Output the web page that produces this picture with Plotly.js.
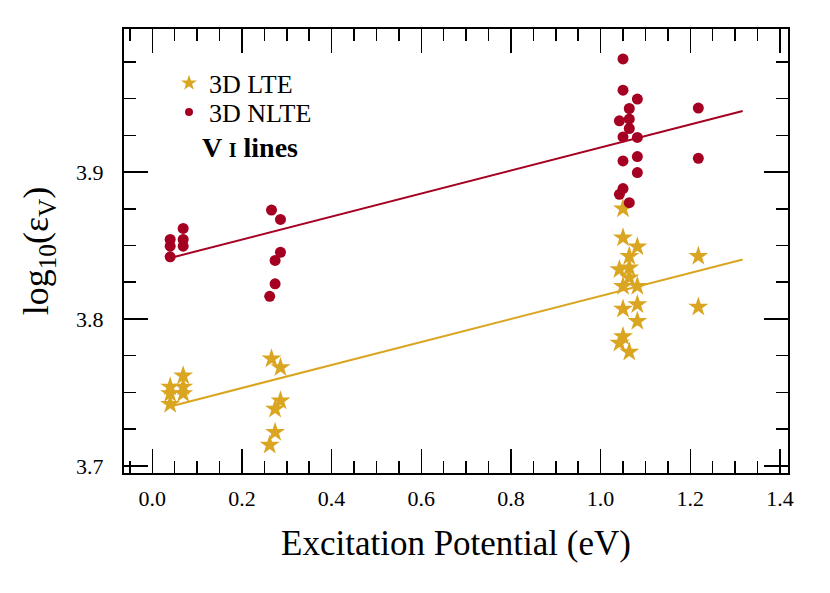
<!DOCTYPE html>
<html>
<head>
<meta charset="utf-8">
<script src="https://cdn.plot.ly/plotly-3.0.1.min.js"></script>
<style>html,body{margin:0;padding:0;background:#fff;}</style>
</head>
<body>
<div id="chart" style="width:830px;height:593px;"></div>
<script>
// Excitation potential (eV) of each V I line
var epX = [0.040, 0.040, 0.040, 0.069, 0.069, 0.069,
           0.266, 0.286, 0.286, 0.274, 0.274, 0.262,
           1.050, 1.050, 1.082, 1.064, 1.042, 1.064, 1.064, 1.050, 1.082,
           1.082, 1.050, 1.082, 1.050, 1.042, 1.064,
           1.218, 1.218];
// 3D NLTE abundances
var nlteY = [3.8541, 3.8495, 3.8423, 3.8616, 3.8541, 3.8495,
             3.8741, 3.8677, 3.8454, 3.8398, 3.8239, 3.8154,
             3.9769, 3.9557, 3.9496, 3.9432, 3.9348, 3.9360, 3.9296, 3.9239, 3.9235,
             3.9105, 3.9075, 3.8996, 3.8887, 3.8848, 3.8791,
             3.9435, 3.9093];
// 3D LTE abundances
var lteY = [3.7538, 3.7493, 3.7420, 3.7613, 3.7538, 3.7493,
            3.7729, 3.7670, 3.7443, 3.7388, 3.7229, 3.7143,
            3.8750, 3.8553, 3.8491, 3.8427, 3.8336, 3.8348, 3.8280, 3.8222, 3.8222,
            3.8098, 3.8068, 3.7984, 3.7881, 3.7836, 3.7775,
            3.8427, 3.8082];
// Linear fits (end points)
var fitX = [0.040, 1.317];
var fitNLTE = [3.8415, 3.9415];
var fitLTE = [3.7405, 3.8405];

var seriesNames = ['3D LTE', '3D NLTE'];
var xTitle = 'Excitation Potential (eV)';
var yTitle = 'log<sub>10</sub>(ε<sub>V</sub>)';

var GOLD = '#DAA520';
var RED = '#A50021';
var FONT = 'Liberation Serif, DejaVu Serif, serif';

var traces = [
  {x: fitX, y: fitLTE, mode: 'lines', line: {color: GOLD, width: 2}, showlegend: false, hoverinfo: 'skip'},
  {x: fitX, y: fitNLTE, mode: 'lines', line: {color: RED, width: 2}, showlegend: false, hoverinfo: 'skip'},
  {x: epX, y: lteY, mode: 'markers', name: seriesNames[0], showlegend: false,
   marker: {symbol: 'star', size: 15, color: GOLD, line: {width: 0}}},
  {x: epX, y: nlteY, mode: 'markers', name: seriesNames[1], showlegend: false,
   marker: {symbol: 'circle', size: 11, color: RED, line: {width: 0}}},
  // legend entries
  {x: [null], y: [null], mode: 'markers', name: seriesNames[0], legend: 'legend',
   marker: {symbol: 'star', size: 12, color: GOLD, line: {width: 0}}},
  {x: [null], y: [null], mode: 'markers', name: seriesNames[1], legend: 'legend2',
   marker: {symbol: 'circle', size: 8, color: RED, line: {width: 0}}}
];

var axisCommon = {
  showline: true, linewidth: 2, linecolor: '#000', mirror: 'allticks',
  ticks: 'inside', ticklen: 24, tickwidth: 1.5, tickcolor: '#000',
  showgrid: false, zeroline: false,
  tickfont: {family: FONT, size: 22, color: '#000'}
};

var legendCommon = {
  xanchor: 'left', yanchor: 'middle',
  bgcolor: 'rgba(0,0,0,0)', borderwidth: 0,
  font: {family: FONT, size: 26, color: '#000'},
  itemwidth: 30
};

var layout = {
  width: 830, height: 593,
  margin: {l: 124, r: 42, t: 29, b: 120},
  paper_bgcolor: '#fff', plot_bgcolor: '#fff',
  font: {family: FONT, color: '#000'},
  xaxis: Object.assign({}, axisCommon, {
    range: [-0.063, 1.418], tick0: 0, dtick: 0.2, tickformat: '.1f',
    ticklabelstandoff: 5,
    minor: {dtick: 0.05, ticks: 'inside', ticklen: 12, tickwidth: 1.5, tickcolor: '#000', showgrid: false},
    title: {text: xTitle, font: {family: FONT, size: 35, color: '#000'}, standoff: 20}
  }),
  yaxis: Object.assign({}, axisCommon, {
    range: [3.6952, 3.9973], tick0: 3.7, dtick: 0.1, tickformat: '.1f',
    ticklabelstandoff: 14,
    minor: {dtick: 0.025, ticks: 'inside', ticklen: 12, tickwidth: 1.5, tickcolor: '#000', showgrid: false},
    title: {text: yTitle, font: {family: FONT, size: 36, color: '#000'}, standoff: 16}
  }),
  legend: Object.assign({}, legendCommon, {x: 0.0678, y: 0.878}),
  legend2: Object.assign({}, legendCommon, {x: 0.0678, y: 0.813}),
  annotations: [{
    xref: 'paper', yref: 'paper', x: 0.1145, y: 0.734, xanchor: 'left', yanchor: 'middle',
    showarrow: false,
    text: '<b>V <span style="font-size:20px">I</span> lines</b>',
    font: {family: FONT, size: 28, color: '#000'}
  }]
};

Plotly.newPlot('chart', traces, layout, {displayModeBar: false, staticPlot: true});
</script>
</body>
</html>
